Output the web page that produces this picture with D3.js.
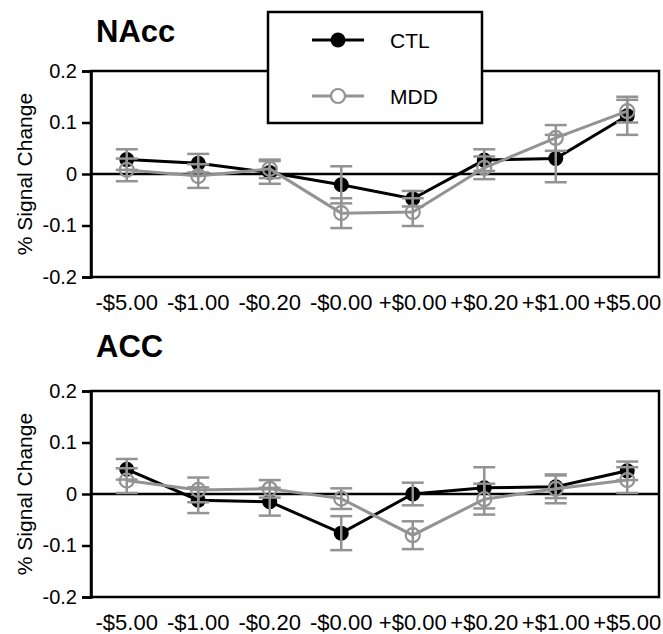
<!DOCTYPE html>
<html>
<head>
<meta charset="utf-8">
<script src="https://cdn.jsdelivr.net/npm/d3@7"></script>
<style>
  body { margin: 0; background: #fff; }
  svg text { font-family: "Liberation Sans", Arial, sans-serif; fill: #000; }
</style>
</head>
<body>
<script>
// reward conditions on the x axis
const categories = ["-$5.00", "-$1.00", "-$0.20", "-$0.00", "+$0.00", "+$0.20", "+$1.00", "+$5.00"];
const yTicks = [0.2, 0.1, 0, -0.1, -0.2];
const yTickLabels = ["0.2", "0.1", "0", "-0.1", "-0.2"];
const seriesNames = ["CTL", "MDD"];

// NAcc panel
const naccCTL    = [0.028, 0.021, 0.003, -0.021, -0.048, 0.027, 0.030, 0.113];
const naccCTLErr = [0.020, 0.018, 0.022, 0.036, 0.015, 0.021, 0.046, 0.037];
const naccMDD    = [0.008, -0.004, 0.010, -0.076, -0.074, 0.012, 0.070, 0.122];
const naccMDDErr = [0.022, 0.023, 0.018, 0.029, 0.027, 0.022, 0.025, 0.022];

// ACC panel
const accCTL    = [0.048, -0.012, -0.015, -0.076, 0.000, 0.012, 0.014, 0.045];
const accCTLErr = [0.020, 0.025, 0.027, 0.033, 0.022, 0.040, 0.022, 0.018];
const accMDD    = [0.026, 0.008, 0.010, -0.009, -0.080, -0.010, 0.010, 0.027];
const accMDDErr = [0.024, 0.024, 0.017, 0.020, 0.027, 0.030, 0.028, 0.025];

const width = 663;
const height = 634;
const grey = "#939393";

const left = 91;
const frameRight = 659;

const svg = d3.select("body")
    .append("svg")
    .attr("width", width)
    .attr("height", height);

const x = d3.scalePoint()
    .domain(categories)
    .range([left, left + 572])
    .padding(0.5);

function panel(title, ctl, ctlErr, mdd, mddErr, top, titleY) {
    const bottom = top + 206;
    const y = d3.scaleLinear().domain([-0.2, 0.2]).range([bottom, top]);
    const g = svg.append("g");

    g.append("text")
        .attr("x", 96)
        .attr("y", titleY)
        .style("font-size", "31px")
        .style("font-weight", "bold")
        .text(title);

    // frame
    g.append("rect")
        .attr("x", left)
        .attr("y", top)
        .attr("width", frameRight - left)
        .attr("height", bottom - top)
        .attr("fill", "none")
        .attr("stroke", "#000")
        .attr("stroke-width", 2.5);

    // y axis
    const yAxis = g.append("g")
        .attr("transform", `translate(${left},0)`)
        .call(d3.axisLeft(y).tickValues(yTicks).tickSize(9).tickPadding(5)
            .tickFormat((d, i) => yTickLabels[i]));
    yAxis.select(".domain").attr("stroke-width", 2.5);
    yAxis.selectAll(".tick line").attr("stroke-width", 2.5);
    yAxis.selectAll(".tick text").style("font-size", "20px");

    g.append("text")
        .attr("transform", `translate(32,${(top + bottom) / 2}) rotate(-90)`)
        .attr("text-anchor", "middle")
        .style("font-size", "21px")
        .text("% Signal Change");

    // x labels
    g.selectAll(".xlab")
        .data(categories)
        .enter()
        .append("text")
        .attr("class", "xlab")
        .attr("x", d => x(d))
        .attr("y", bottom + 33)
        .attr("text-anchor", "middle")
        .style("font-size", "22px")
        .text(d => d);

    // zero line
    g.append("line")
        .attr("x1", left).attr("x2", frameRight)
        .attr("y1", y(0)).attr("y2", y(0))
        .attr("stroke", "#000")
        .attr("stroke-width", 2.5);

    const line = d3.line()
        .x((d, i) => x(categories[i]))
        .y(d => y(d));

    g.append("path")
        .datum(ctl)
        .attr("d", line)
        .attr("fill", "none")
        .attr("stroke", "#000")
        .attr("stroke-width", 3);

    g.selectAll(".ctl")
        .data(ctl)
        .enter()
        .append("circle")
        .attr("class", "ctl")
        .attr("cx", (d, i) => x(categories[i]))
        .attr("cy", d => y(d))
        .attr("r", 7.5)
        .attr("fill", "#000");

    g.append("path")
        .datum(mdd)
        .attr("d", line)
        .attr("fill", "none")
        .attr("stroke", grey)
        .attr("stroke-width", 3);

    g.selectAll(".mdd")
        .data(mdd)
        .enter()
        .append("circle")
        .attr("class", "mdd")
        .attr("cx", (d, i) => x(categories[i]))
        .attr("cy", d => y(d))
        .attr("r", 7)
        .attr("fill", "none")
        .attr("stroke", grey)
        .attr("stroke-width", 2.2);

    // error bars, all grey
    const errs = ctl.map((v, i) => ({ i: i, v: v, e: ctlErr[i] }))
        .concat(mdd.map((v, i) => ({ i: i, v: v, e: mddErr[i] })));

    const eb = g.selectAll(".err")
        .data(errs)
        .enter()
        .append("g")
        .attr("class", "err")
        .attr("stroke", grey)
        .attr("stroke-width", 2.5);

    eb.append("line")
        .attr("x1", d => x(categories[d.i])).attr("x2", d => x(categories[d.i]))
        .attr("y1", d => y(d.v + d.e)).attr("y2", d => y(d.v - d.e));
    eb.append("line")
        .attr("x1", d => x(categories[d.i]) - 11).attr("x2", d => x(categories[d.i]) + 11)
        .attr("y1", d => y(d.v + d.e)).attr("y2", d => y(d.v + d.e));
    eb.append("line")
        .attr("x1", d => x(categories[d.i]) - 11).attr("x2", d => x(categories[d.i]) + 11)
        .attr("y1", d => y(d.v - d.e)).attr("y2", d => y(d.v - d.e));
}

panel("NAcc", naccCTL, naccCTLErr, naccMDD, naccMDDErr, 71, 42);
panel("ACC", accCTL, accCTLErr, accMDD, accMDDErr, 391, 357);

// legend
const legend = svg.append("g");
legend.append("rect")
    .attr("x", 268).attr("y", 12)
    .attr("width", 214).attr("height", 111)
    .attr("fill", "#fff")
    .attr("stroke", "#000")
    .attr("stroke-width", 2.5);

const item = legend.selectAll(".item")
    .data(seriesNames)
    .enter()
    .append("g")
    .attr("class", "item")
    .attr("transform", (d, i) => `translate(312,${40 + i * 56})`);

item.append("line")
    .attr("x1", 0).attr("x2", 52)
    .attr("stroke", (d, i) => i === 0 ? "#000" : grey)
    .attr("stroke-width", 3);

item.append("circle")
    .attr("cx", 26)
    .attr("r", (d, i) => i === 0 ? 7.5 : 7)
    .attr("fill", (d, i) => i === 0 ? "#000" : "#fff")
    .attr("stroke", (d, i) => i === 0 ? "none" : grey)
    .attr("stroke-width", 2.2);

item.append("text")
    .attr("x", 78)
    .attr("dy", "0.36em")
    .style("font-size", "21px")
    .text(d => d);
</script>
</body>
</html>
